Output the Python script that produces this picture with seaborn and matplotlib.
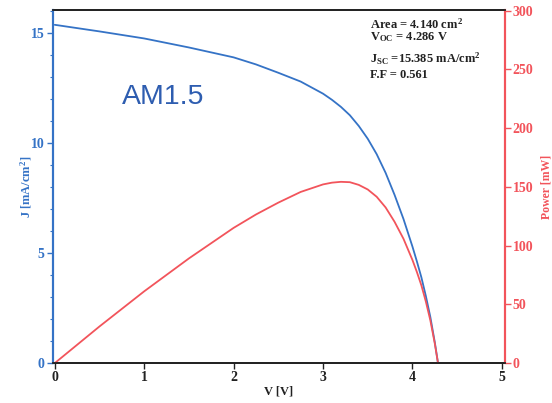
import numpy as np
import pandas as pd
import matplotlib
matplotlib.use("Agg")
import matplotlib.pyplot as plt
import seaborn as sns
from matplotlib.ticker import MultipleLocator

# Data
voltage = [0.0, 0.5, 1.0, 1.5, 2.0, 2.25, 2.5, 2.75, 3.0, 3.1, 3.2, 3.3, 3.4, 3.5, 3.6,
           3.7, 3.8, 3.9, 4.0, 4.05, 4.1, 4.15, 4.2, 4.25, 4.286]
current_density = [15.38, 15.08, 14.76, 14.35, 13.9, 13.58, 13.2, 12.8, 12.25, 11.97, 11.65,
                   11.27, 10.78, 10.2, 9.5, 8.65, 7.65, 6.55, 5.3, 4.62, 3.9, 3.05,
                   2.1, 0.95, 0.0]
power = [0, 31.2, 61.1, 89.1, 115.1, 126.5, 136.6, 145.7, 152.1, 153.6, 154.3, 154.0,
         151.7, 147.8, 141.6, 132.5, 120.3, 105.8, 87.8, 77.5, 66.2, 52.4, 36.5, 16.7, 0]
x_ticks = [0, 1, 2, 3, 4, 5]
j_ticks = [0, 5, 10, 15]
p_ticks = [0, 50, 100, 150, 200, 250, 300]
info_lines = ["Area = 4.140 cm$^2$", "V$_{OC}$ = 4.286 V",
              "J$_{SC}$ =15.385 mA/cm$^2$", "F.F = 0.561"]

df = pd.DataFrame({"V": voltage, "J": current_density, "P": power})

sns.set_theme(style="ticks")
plt.rcParams["font.family"] = ["Liberation Serif", "DejaVu Serif"]
plt.rcParams["mathtext.default"] = "regular"

BLUE = "#3573c6"
RED = "#f2545b"
DARK = "#222222"

fig = plt.figure(figsize=(5.52, 4.03), dpi=100)
ax = fig.add_axes([0.096, 0.099, 0.818, 0.876])
ax2 = ax.twinx()

sns.lineplot(data=df, x="V", y="J", ax=ax, color=BLUE, linewidth=1.3)
sns.lineplot(data=df, x="V", y="P", ax=ax2, color=RED, linewidth=1.3)

ax.set_xlim(-0.02, 5.03)
ax.set_ylim(0, 16.05)
ax2.set_ylim(0, 300.5)

ax.set_xticks(x_ticks)
ax.set_yticks(j_ticks)
ax.yaxis.set_minor_locator(MultipleLocator(1))
ax2.set_yticks(p_ticks)

tick_font = dict(fontsize=10, fontweight="bold")
ax.set_xticklabels([str(t) for t in x_ticks], color=DARK, **tick_font)
ax.set_yticklabels([str(t) for t in j_ticks], color=BLUE, **tick_font)
ax2.set_yticklabels([str(t) for t in p_ticks], color=RED, **tick_font)

ax.tick_params(axis="x", direction="out", length=4, width=1, colors=DARK, pad=2)
ax.tick_params(axis="y", which="major", direction="out", length=4, width=1, colors=BLUE, pad=2)
ax.tick_params(axis="y", which="minor", direction="out", length=2.5, width=0.8, colors=BLUE)
ax2.tick_params(axis="y", direction="out", length=4, width=1, colors=RED, pad=2)

for a in (ax, ax2):
    a.spines["top"].set_color(DARK)
    a.spines["bottom"].set_color(DARK)
    a.spines["top"].set_linewidth(1.3)
    a.spines["bottom"].set_linewidth(1.3)
    a.spines["top"].set_visible(True)
    a.spines["right"].set_visible(True)
    a.spines["left"].set_color(BLUE)
    a.spines["left"].set_linewidth(1.5)
    a.spines["right"].set_color(RED)
    a.spines["right"].set_linewidth(1.5)

ax.set_xlabel("V [V]", fontsize=9, fontweight="bold", color=DARK, labelpad=1)
ax.set_ylabel("J [mA/cm$^2$]", fontsize=9, fontweight="bold", color=BLUE, labelpad=-2)
ax2.set_ylabel("Power [mW]", fontsize=8.5, fontweight="bold", color=RED, labelpad=5)

ax.text(0.756, 12.1, "AM1.5", fontsize=20.5, color="#2e5db0",
        family=["Liberation Sans", "DejaVu Sans"], va="center", ha="left")

ys = [0.94, 0.908, 0.853, 0.814]
for line, yy in zip(info_lines, ys):
    fig.text(0.670, yy, line, fontsize=9, fontweight="bold", color=DARK,
             va="center", ha="left")

fig.savefig("out.png", dpi=100)
